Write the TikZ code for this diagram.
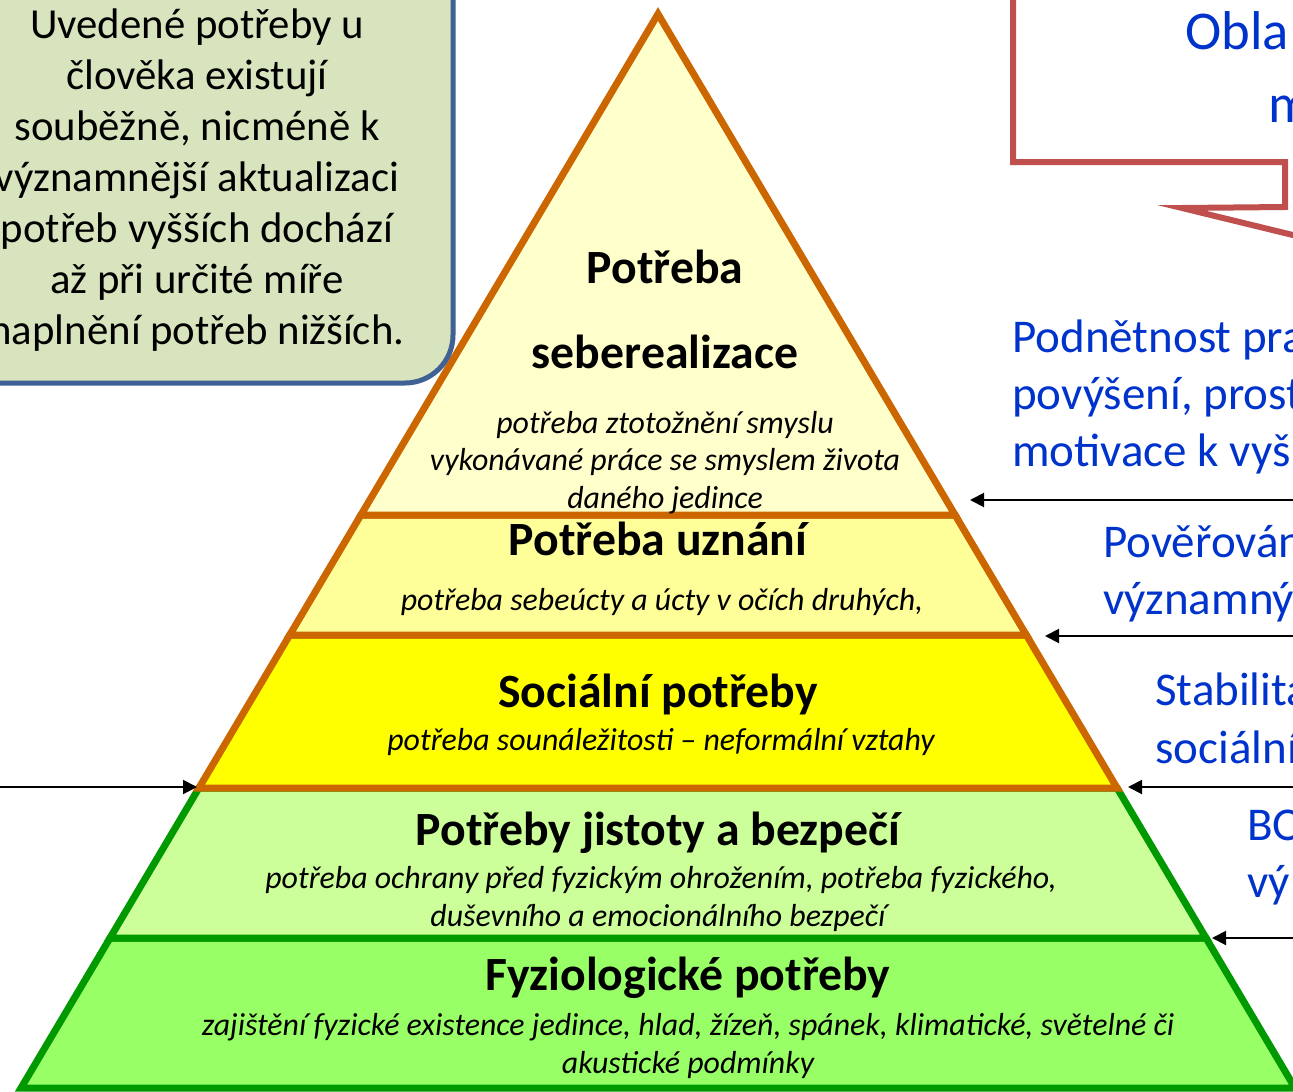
\documentclass[tikz,border=0pt]{standalone}
\usepackage{fontspec}
\setmainfont{Carlito}
\usetikzlibrary{arrows.meta}

\definecolor{edgeorange}{HTML}{CC6600}
\definecolor{edgegreen}{HTML}{009900}
\definecolor{fillA}{HTML}{FFFFCC}
\definecolor{fillB}{HTML}{FFFF99}
\definecolor{fillC}{HTML}{FFFF00}
\definecolor{fillD}{HTML}{CCFF99}
\definecolor{fillE}{HTML}{99FF66}
\definecolor{notefill}{HTML}{D7E4BD}
\definecolor{noteedge}{HTML}{3F6193}
\definecolor{calloutred}{HTML}{C0504D}
\definecolor{textblue}{HTML}{0033CC}

\begin{document}
\begin{tikzpicture}[x=0.75pt,y=-0.75pt,
  layer/.style={line width=5.25pt,line join=miter},
  title/.style={font=\fontsize{35.8}{42}\selectfont\bfseries,inner sep=0pt,anchor=base},
  desc/.style={font=\fontsize{23.9}{28}\selectfont\itshape,inner sep=0pt,anchor=base},
  note/.style={font=\fontsize{32.1}{38}\selectfont,inner sep=0pt,anchor=base},
  offer/.style={font=\fontsize{35.25}{42}\selectfont,text=textblue,inner sep=0pt,anchor=base west},
  pointer/.style={line width=1.5pt,-{Triangle[length=10.5pt,width=10.5pt]}}]
  \useasboundingbox (0,0) rectangle (1293,1092);
  \clip (0,0) rectangle (1293,1092);

  % pyramid, bottom layer first
  \filldraw[layer,draw=edgegreen,fill=fillE] (21,1088) -- (110,938) -- (1206,938) -- (1295,1088) -- cycle;
  \filldraw[layer,draw=edgegreen,fill=fillD] (110,938) -- (198.9,788) -- (1117.1,788) -- (1206,938) -- cycle;
  \filldraw[layer,draw=edgeorange,fill=fillC] (198.9,788) -- (289.7,635) -- (1026.3,635) -- (1117.1,788) -- cycle;
  \filldraw[layer,draw=edgeorange,fill=fillB] (289.7,635) -- (360.9,515) -- (955.1,515) -- (1026.3,635) -- cycle;
  \filldraw[layer,draw=edgeorange,fill=fillA] (360.9,515) -- (658,14) -- (955.1,515) -- cycle;

  \node[title] (self1) at (665,283) {Potřeba};
  \node[title] (self2) at (665,368) {seberealizace};
  \node[desc] (selfd1) at (665,433) {potřeba ztotožnění smyslu};
  \node[desc] (selfd2) at (665,470) {vykonávané práce se smyslem života};
  \node[desc] (selfd3) at (665,508) {daného jedince};
  \node[title] (esteem) at (658,555) {Potřeba uznání};
  \node[desc] (esteemd) at (662,610) {potřeba sebeúcty a úcty v očích druhých,};
  \node[title] (social) at (658,707) {Sociální potřeby};
  \node[desc] (sociald) at (661,750) {potřeba sounáležitosti – neformální vztahy};
  \node[title] (safety) at (658,845) {Potřeby jistoty a bezpečí};
  \node[desc] (safetyd1) at (661,888) {potřeba ochrany před fyzickým ohrožením, potřeba fyzického,};
  \node[desc] (safetyd2) at (658,926) {duševního a emocionálního bezpečí};
  \node[title] (phys) at (688,990) {Fyziologické potřeby};
  \node[desc] (physd1) at (688,1035) {zajištění fyzické existence jedince, hlad, žízeň, spánek, klimatické, světelné či};
  \node[desc] (physd2) at (688,1073) {akustické podmínky};

  % note box
  \draw[line width=3.75pt,draw=noteedge,fill=notefill,rounded corners=36pt] (-60,-60) rectangle (453,383);
  \foreach \t [count=\i] in {{Uvedené potřeby u},{člověka existují},{souběžně, nicméně k},
      {významnější aktualizaci},{potřeb vyšších dochází},{až při určité míře},{naplnění potřeb nižších.}}
    \node[note] (note\i) at (197,{38+51*(\i-1)}) {\t};

  % callout
  \draw[line width=4.5pt,draw=calloutred,line join=miter] (1013,-20) -- (1013,162) -- (1285,162)
    -- (1285,207) -- (1182,208) -- (1420,266);
  \node[offer,font=\fontsize{41}{49}\selectfont] (area1) at (1185,50) {Obla};
  \node[offer,font=\fontsize{41}{49}\selectfont] (area2) at (1268,122) {m};

  % right side texts
  \node[offer] (tip1a) at (1012,352) {Podnětnost pra};
  \node[offer] (tip1b) at (1012,409) {povýšení, prost};
  \node[offer] (tip1c) at (1012,466) {motivace k vyš};
  \node[offer] (tip2a) at (1103,557) {Pověřován};
  \node[offer] (tip2b) at (1103,614) {významný};
  \node[offer] (tip3a) at (1155,705) {Stabilita};
  \node[offer] (tip3b) at (1155,763) {sociální};
  \node[offer] (tip4a) at (1247,840) {BO};
  \node[offer] (tip4b) at (1247,897) {výl};

  % arrows
  \foreach \y/\x [count=\i] in {500/970,636/1045,787/1128,938/1212} {
    \coordinate (from\i) at (1300,\y);
    \coordinate (to\i) at (\x,\y);
    \draw[pointer] (from\i) -- (to\i);
  }
  \coordinate (fromL) at (-10,787);
  \coordinate (toL) at (197,787);
  \draw[pointer] (fromL) -- (toL);
\end{tikzpicture}
\end{document}
